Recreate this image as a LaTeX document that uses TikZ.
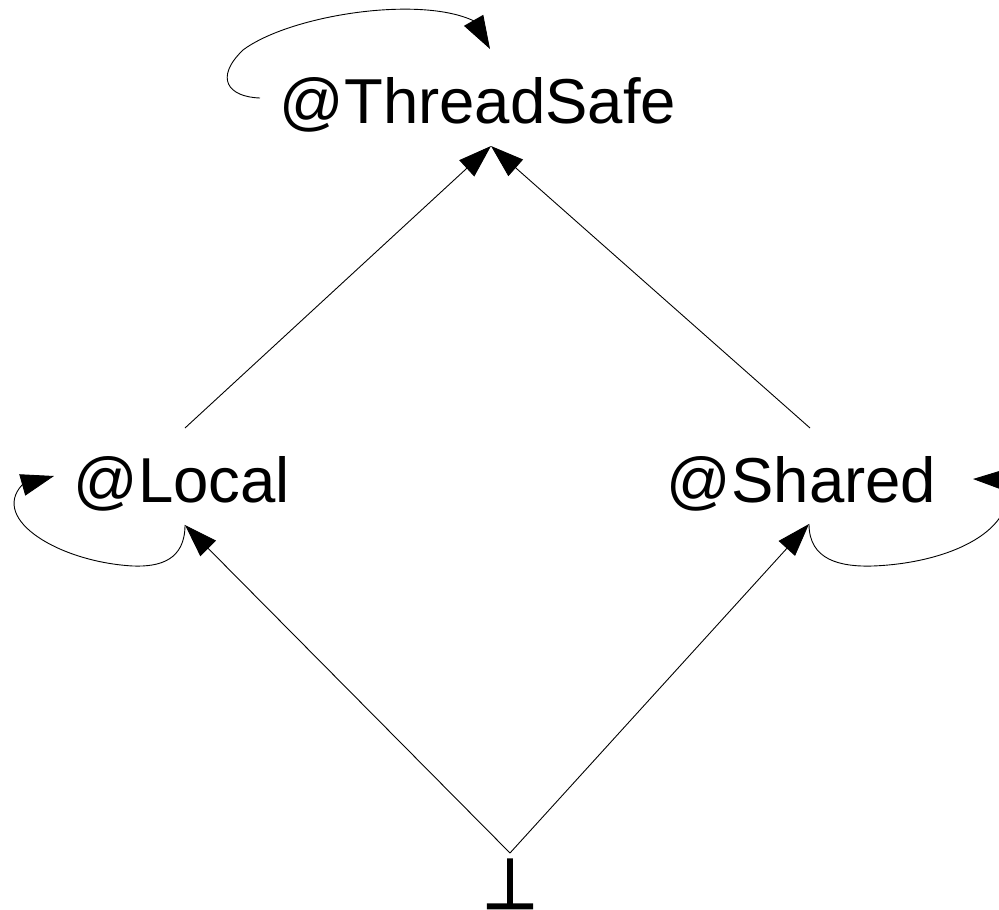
\documentclass[tikz,border=0pt]{standalone}
\usepackage{fontspec}
\setmainfont{Liberation Sans}
\newfontfamily\symfont[UprightFeatures={FakeBold=2.5}]{DejaVu Sans}
\usetikzlibrary{arrows.meta}
\tikzset{
  lbl/.style={inner sep=0pt, anchor=base, font=\fontsize{63.5}{76}\selectfont},
  botlbl/.style={inner sep=0pt, anchor=base, font=\symfont\fontsize{64}{76}\selectfont},
  edge/.style={line width=0.9pt, -{Triangle[length=33pt,width=22pt]}},
}
\begin{document}
\begin{tikzpicture}[x=1pt,y=-1pt]
  \useasboundingbox (0,0) rectangle (999,910);

  % type qualifier lattice
  \node[lbl]    (ts)  at (478,123) {@ThreadSafe};
  \node[lbl]    (lc)  at (182,502) {@Local};
  \node[lbl]    (sh)  at (801.5,502) {@Shared};
  \node[botlbl] (bot) at (510,908.5) {\scalebox{1}[1.1]{⊥}};

  % edge ports
  \coordinate (ts-s)  at (491,146);
  \coordinate (ts-w)  at (260,98);
  \coordinate (ts-lb) at (474,21);
  \coordinate (ts-lt) at (490,49);
  \coordinate (lc-n)  at (185,428);
  \coordinate (lc-s)  at (185,525);
  \coordinate (lc-lb) at (22,485);
  \coordinate (lc-lt) at (54,476);
  \coordinate (sh-n)  at (810,428);
  \coordinate (sh-s)  at (809,524);
  \coordinate (sh-lb) at (1006,480);
  \coordinate (sh-lt) at (973,479);
  \coordinate (bot-n) at (510,853);

  % subtype edges
  \draw[edge] (lc-n) -- (ts-s);
  \draw[edge] (sh-n) -- (ts-s);
  \draw[edge] (bot-n) -- (lc-s);
  \draw[edge] (bot-n) -- (sh-s);

  % reflexive loops
  \draw[edge] (ts-w) .. controls (228,97) and (214,78) .. (243,50)
              .. controls (290,15) and (420,-5) .. (ts-lb) -- (ts-lt);
  \draw[edge] (lc-s) .. controls (185,560) and (160,567) .. (133,566)
              .. controls (60,562) and (-10,520) .. (lc-lb) -- (lc-lt);
  \draw[edge] (sh-s) .. controls (809,560) and (840,567) .. (873,566)
              .. controls (950,563) and (1020,530) .. (sh-lb) -- (sh-lt);
\end{tikzpicture}
\end{document}
